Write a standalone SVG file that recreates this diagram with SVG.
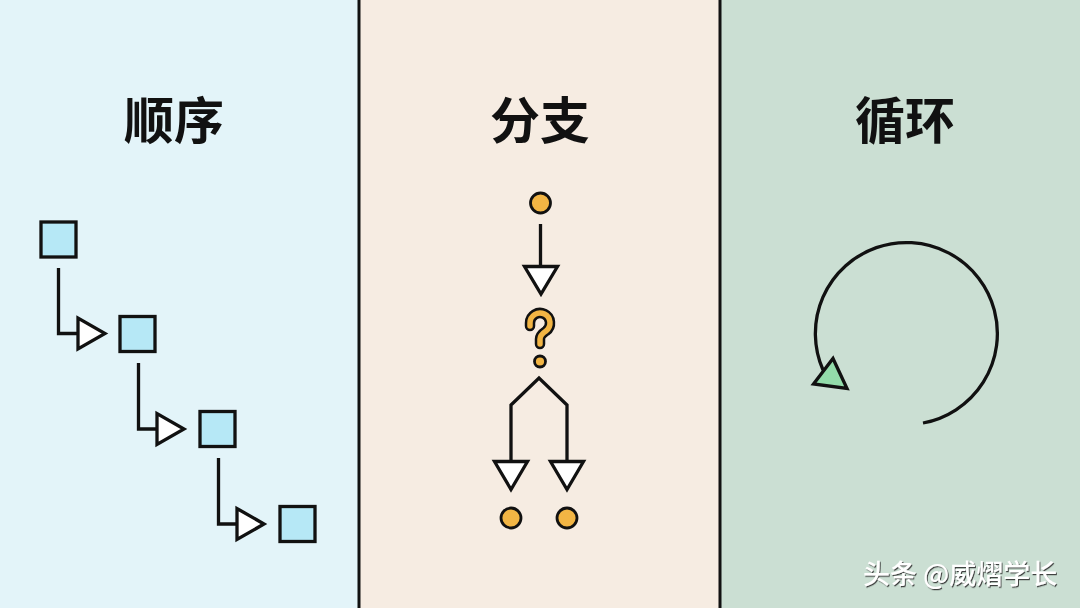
<svg xmlns="http://www.w3.org/2000/svg" width="1080" height="608" viewBox="0 0 1080 608">
<defs>
<style>
.title{font-family:"Noto Sans CJK SC","Noto Sans",sans-serif;font-weight:700;font-size:50px;fill:#111;text-anchor:middle}
.ln{fill:none;stroke:#111;stroke-width:3.3;stroke-linejoin:miter}
.sq{fill:#b6e8f6;stroke:#111;stroke-width:3.3}
.tri{fill:#fff;stroke:#111;stroke-width:3.3;stroke-linejoin:miter}
.dot{fill:#f2b544;stroke:#111;stroke-width:2.8}
.wm{font-family:"Noto Sans CJK SC","Noto Sans",sans-serif;font-size:27px;font-weight:500;fill:#fff}
</style>
<filter id="sh" x="-5%" y="-20%" width="110%" height="140%">
<feDropShadow dx="1" dy="1.2" stdDeviation="0.6" flood-color="#333" flood-opacity="0.9"/>
</filter>
</defs>
<g id="background">
<rect x="0" y="0" width="359" height="608" fill="#e3f4f9"/>
<rect x="359" y="0" width="361" height="608" fill="#f6ece2"/>
<rect x="720" y="0" width="360" height="608" fill="#cbdfd3"/>
<rect x="357.5" y="0" width="3" height="608" fill="#111"/>
<rect x="718.5" y="0" width="3" height="608" fill="#111"/>
</g>
<g id="titles">
<text class="title" x="174" y="139">顺序</text>
<text class="title" x="540" y="139">分支</text>
<text class="title" x="905" y="139">循环</text>
</g>
<g id="seq-connectors">
<path class="ln" d="M58.5 268V333.5H78"/>
<path class="tri" d="M78 318L78 349L105 333.5Z"/>
<path class="ln" d="M138.5 363V429H157"/>
<path class="tri" d="M157 413.5L157 444.5L184 429Z"/>
<path class="ln" d="M218.5 458V524H237"/>
<path class="tri" d="M237 508.5L237 539.5L264 524Z"/>
</g>
<g id="seq-node-1"><rect class="sq" x="41" y="222" width="35" height="35"/></g>
<g id="seq-node-2"><rect class="sq" x="120" y="316.5" width="35" height="35"/></g>
<g id="seq-node-3"><rect class="sq" x="200" y="411.5" width="35" height="35"/></g>
<g id="seq-node-4"><rect class="sq" x="280" y="506.5" width="35" height="35"/></g>
<g id="branch-connectors">
<path class="ln" d="M540.5 224V266"/>
<path class="tri" d="M524.5 266.5L557.5 266.5L541 294Z"/>
<path class="ln" d="M511 461V405L539 378L567 405V461"/>
<path class="tri" d="M494.5 461.5L527.5 461.5L511 489.5Z"/>
<path class="tri" d="M550.5 461.5L583.5 461.5L567 489.5Z"/>
</g>
<g id="branch-start"><circle class="dot" cx="540.5" cy="203" r="10"/></g>
<g id="branch-question">
<path d="M530 326V323A10 10 0 1 1 546 331Q540 335 540 339V344" fill="none" stroke="#111" stroke-width="10.5" stroke-linecap="round" stroke-linejoin="round"/>
<path d="M530 326V323A10 10 0 1 1 546 331Q540 335 540 339V344" fill="none" stroke="#f2b544" stroke-width="5.5" stroke-linecap="round" stroke-linejoin="round"/>
<circle class="dot" cx="540" cy="361.5" r="5.5"/>
</g>
<g id="branch-end-left"><circle class="dot" cx="511" cy="518" r="10"/></g>
<g id="branch-end-right"><circle class="dot" cx="567" cy="518" r="10"/></g>
<g id="loop">
<path class="ln" d="M923 423A91 91 0 1 0 823 370"/>
<path d="M813.5 384L833 358.5L847 388.5Z" fill="#93dcaa" stroke="#111" stroke-width="3.3" stroke-linejoin="miter"/>
</g>
<g id="watermark" filter="url(#sh)">
<text class="wm" x="863" y="584">头条 @威熠学长</text>
</g>
</svg>
